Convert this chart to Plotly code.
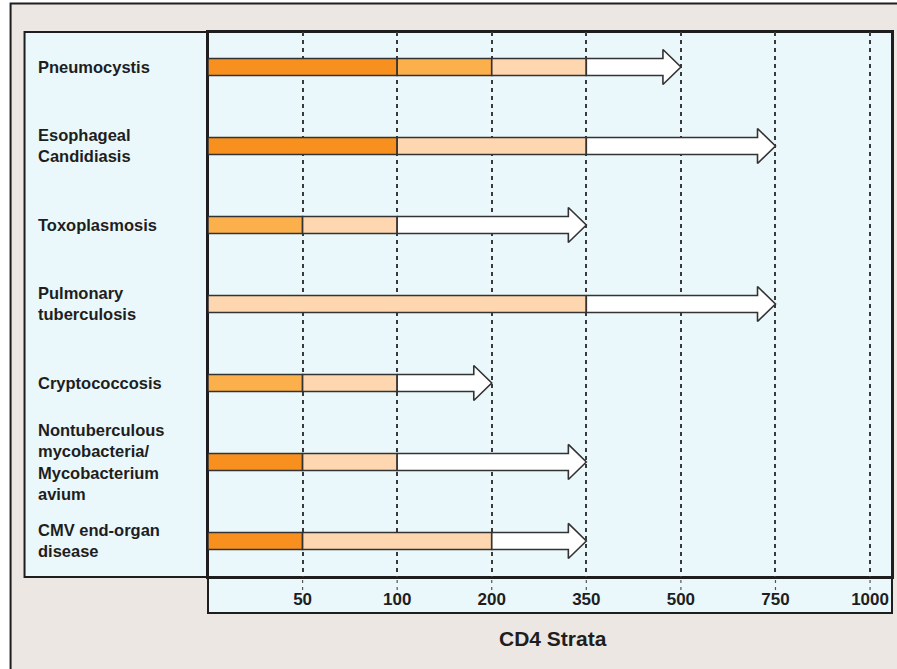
import plotly.graph_objects as go

# CD4 strata shown on the (ordinal) x axis; position = index in this list
strata = [0, 50, 100, 200, 350, 500, 750, 1000]
tick_labels = ["50", "100", "200", "350", "500", "750", "1000"]

conditions = [
    "Pneumocystis",
    "Esophageal<br>Candidiasis",
    "Toxoplasmosis",
    "Pulmonary<br>tuberculosis",
    "Cryptococcosis",
    "Nontuberculous<br>mycobacteria/<br>Mycobacterium<br>avium",
    "CMV end-organ<br>disease",
]

# Risk segments per condition: (start CD4, end CD4, level)
segments = [
    [(0, 100, "high"), (100, 200, "mid"), (200, 350, "low")],
    [(0, 100, "high"), (100, 350, "low")],
    [(0, 50, "mid"), (50, 100, "low")],
    [(0, 350, "low")],
    [(0, 50, "mid"), (50, 100, "low")],
    [(0, 50, "high"), (50, 100, "low")],
    [(0, 50, "high"), (50, 200, "low")],
]

# Arrow (residual risk) from -> to, in CD4 units
arrows = [(350, 500), (350, 750), (100, 350), (350, 750), (100, 200), (100, 350), (200, 350)]

level_colors = {"high": "#f7901e", "mid": "#fcb04c", "low": "#fed7b0"}
outline = "#333333"
panel = "#eaf8fc"
frame_bg = "#ede7e4"
ink = "#1e1e1e"
font_family = "Liberation Sans, Arial, Helvetica, sans-serif"

W, H = 897, 669
L, R, T, B = 208, 894, 32, 577  # plot area in pixels
PW, PH = R - L, B - T


def px(x):
    return (x - L) / PW


def py(y):
    return (B - y) / PH


def pos(v):
    return strata.index(v)


bar_half = 0.108
head_half = 0.222
head_len = 0.19

fig = go.Figure()

# colored risk segments
for i, segs in enumerate(segments):
    for start, end, level in segs:
        x0, x1 = pos(start), pos(end)
        fig.add_trace(go.Bar(
            y=[i], x=[x1 - x0], base=[x0], orientation="h",
            width=2 * bar_half,
            marker=dict(color=level_colors[level], line=dict(color=outline, width=1.6)),
            showlegend=False, hoverinfo="skip",
        ))

# white arrows
for i, (a, b) in enumerate(arrows):
    x0, x1 = pos(a), pos(b)
    xs = [x0, x1 - head_len, x1 - head_len, x1, x1 - head_len, x1 - head_len, x0, x0]
    ys = [i - bar_half, i - bar_half, i - head_half, i, i + head_half, i + bar_half, i + bar_half, i - bar_half]
    fig.add_trace(go.Scatter(
        x=xs, y=ys, mode="lines", fill="toself", fillcolor="white",
        line=dict(color=outline, width=1.6), showlegend=False, hoverinfo="skip",
    ))

shapes = [
    # outer frame
    dict(type="rect", xref="paper", yref="paper", x0=px(10), x1=px(910), y0=py(690), y1=py(3.5),
         fillcolor=frame_bg, line=dict(color=ink, width=2), layer="below"),
    # label panel
    dict(type="rect", xref="paper", yref="paper", x0=px(24), x1=0, y0=0, y1=1,
         fillcolor=panel, line=dict(color=ink, width=2), layer="below"),
    # plot panel
    dict(type="rect", xref="paper", yref="paper", x0=0, x1=1, y0=0, y1=1,
         fillcolor=panel, line=dict(color=ink, width=2), layer="below"),
    # tick label box
    dict(type="rect", xref="paper", yref="paper", x0=0, x1=1, y0=py(613), y1=0,
         fillcolor=panel, line=dict(color=ink, width=2), layer="below"),
]

# short dashed stubs of the strata lines inside the tick label box
for k in range(1, len(strata)):
    shapes.append(dict(type="line", xref="x", yref="paper", x0=k, x1=k, y0=py(590), y1=0,
                       line=dict(color="#555555", width=1.2, dash="3px,4px"), layer="above"))

annotations = [
    dict(text="<b>%s</b>" % name, x=px(35), xref="paper", y=i, yref="y",
         xanchor="left", yanchor="middle", align="left", showarrow=False,
         font=dict(size=16.5, color=ink, family=font_family))
    for i, name in enumerate(conditions)
]
annotations.append(dict(text="<b>CD4 Strata</b>", x=px(554), xref="paper", y=py(638), yref="paper",
                        xanchor="center", yanchor="middle", showarrow=False,
                        font=dict(size=21, color=ink, family=font_family)))

fig.update_layout(
    width=W, height=H,
    margin=dict(l=L, r=W - R, t=T, b=H - B),
    paper_bgcolor="white", plot_bgcolor="rgba(0,0,0,0)",
    barmode="overlay",
    shapes=shapes, annotations=annotations,
    font=dict(family=font_family, color=ink),
    xaxis=dict(
        range=[0, (R - L) / ((872 - L) / 7)],
        tickmode="array", tickvals=list(range(1, len(strata))),
        ticktext=["<b>%s</b>" % t for t in tick_labels],
        tickfont=dict(size=17, color=ink, family=font_family),
        ticks="", ticklabelstandoff=6,
        showgrid=True, gridcolor="#3a3a3a", gridwidth=1.5, griddash="4px,4px",
        zeroline=False, showline=True, linecolor=ink, linewidth=2, mirror=True,
        fixedrange=True,
    ),
    yaxis=dict(
        range=[6.456, -0.443], showticklabels=False, ticks="", showgrid=False,
        zeroline=False, showline=True, linecolor=ink, linewidth=2, mirror=True,
        fixedrange=True,
    ),
)

fig.write_html("out.html")
